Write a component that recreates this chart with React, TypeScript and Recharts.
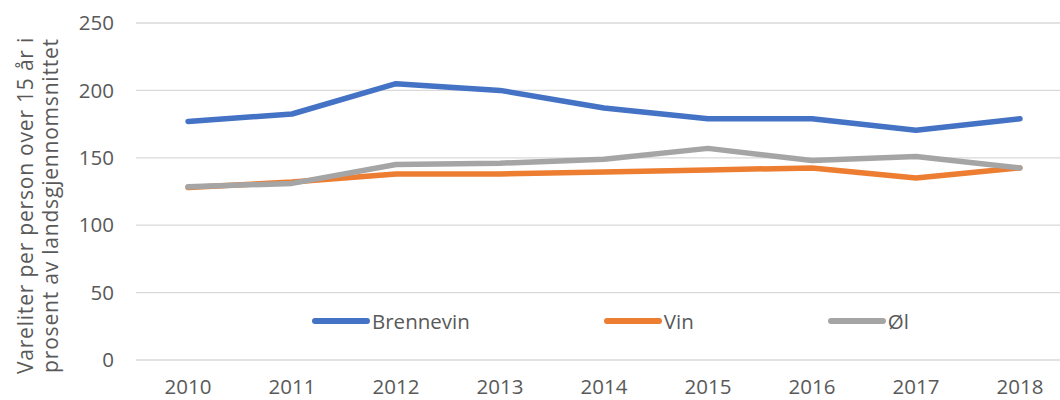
import { LineChart, Line, XAxis, YAxis, CartesianGrid, Legend } from "recharts";

const years = ["2010", "2011", "2012", "2013", "2014", "2015", "2016", "2017", "2018"];
const brennevin = [177, 182.5, 205, 200, 187, 179, 179, 170.5, 179];
const vin = [128, 132, 138, 138, 139.5, 141, 142.5, 135, 142.5];
const ol = [128.5, 131, 145, 146, 149, 157, 148, 151, 142.5];
const yTicks = [0, 50, 100, 150, 200, 250];
const titleLines = ["Vareliter per person over 15 år i", "prosent av landsgjennomsnittet"];

const data = years.map((year, i) => ({
  year,
  Brennevin: brennevin[i],
  Vin: vin[i],
  "Øl": ol[i],
}));

const FONT = "'Open Sans', sans-serif";
const TEXT = "#595959";

// y-axis title, two rotated lines like in Excel
const AxisTitle = (props: any) => {
  const vb = props.viewBox || { x: 0, y: 0, height: 0 };
  const cy = vb.y + vb.height / 2 + 14;
  return (
    <g>
      {titleLines.map((t, i) => {
        const x = vb.x + 33 + i * 25;
        return (
          <text
            key={t}
            x={x}
            y={cy}
            transform={`rotate(-90, ${x}, ${cy})`}
            textAnchor="middle"
            fontSize={21}
            letterSpacing={0.8}
            fill={TEXT}
            fontFamily={FONT}
          >
            {t}
          </text>
        );
      })}
    </g>
  );
};

const renderLegend = (props: any) => {
  const { payload } = props;
  return (
    <div style={{ display: "flex", alignItems: "center", gap: 134 }}>
      {payload.map((p: any) => (
        <div key={p.value} style={{ display: "flex", alignItems: "center" }}>
          <svg width={58} height={8}>
            <line x1={3} y1={4} x2={55} y2={4} stroke={p.color} strokeWidth={6} strokeLinecap="round" />
          </svg>
          <span style={{ marginLeft: 2, fontSize: 20.5, color: TEXT, fontFamily: FONT, lineHeight: "24px" }}>
            {p.value}
          </span>
        </div>
      ))}
    </div>
  );
};

export default function App() {
  return (
    <div style={{ position: "absolute", left: 0, top: 0, width: 1060, height: 400, overflow: "hidden", background: "#fff" }}>
      <LineChart width={1080} height={400} data={data} margin={{ top: 23, right: 8, bottom: 0, left: 0 }}>
        <CartesianGrid vertical={false} stroke="#D9D9D9" strokeWidth={1.3} />
        <XAxis
          dataKey="year"
          axisLine={false}
          tickLine={false}
          tickSize={0}
          tickMargin={19}
          height={40}
          padding={{ left: 52, right: 52 }}
          tick={{ fill: TEXT, fontSize: 20.5, fontFamily: FONT }}
        />
        <YAxis
          domain={[0, 250]}
          ticks={yTicks}
          axisLine={false}
          tickLine={false}
          tickSize={0}
          tickMargin={22}
          width={136}
          tick={{ fill: TEXT, fontSize: 20.5, fontFamily: FONT }}
          label={<AxisTitle />}
        />
        <Legend
          content={renderLegend}
          layout="horizontal"
          verticalAlign="middle"
          wrapperStyle={{ position: "absolute", top: 309, left: 312, width: "auto" }}
        />
        <Line dataKey="Brennevin" stroke="#4472C4" strokeWidth={5.5} dot={false} strokeLinecap="round" strokeLinejoin="round" isAnimationActive={false} />
        <Line dataKey="Vin" stroke="#ED7D31" strokeWidth={5.5} dot={false} strokeLinecap="round" strokeLinejoin="round" isAnimationActive={false} />
        <Line dataKey="Øl" stroke="#A5A5A5" strokeWidth={5.5} dot={false} strokeLinecap="round" strokeLinejoin="round" isAnimationActive={false} />
      </LineChart>
    </div>
  );
}
